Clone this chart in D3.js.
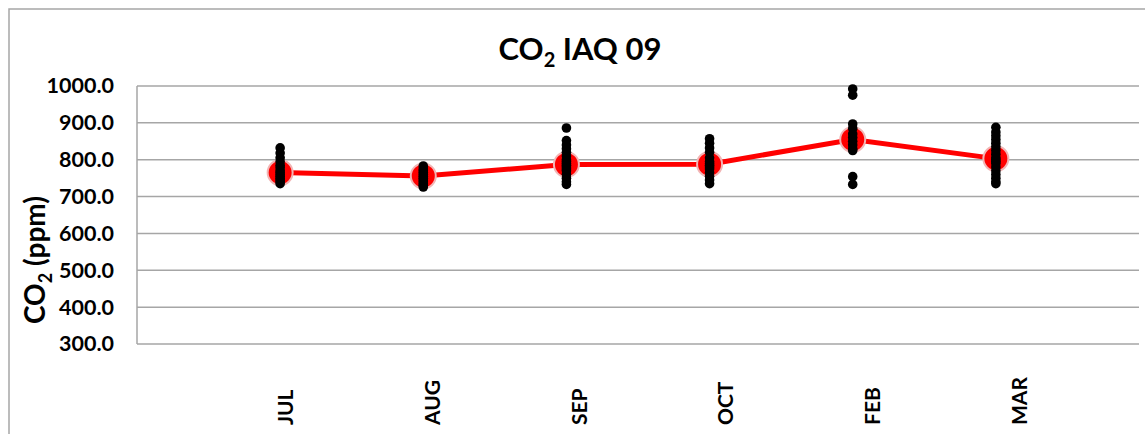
<!DOCTYPE html>
<html><head><meta charset="utf-8">
<script src="https://cdn.jsdelivr.net/npm/d3@7"></script>
<style>
body{margin:0;background:#fff;}
text{font-family:Lato,"Open Sans",sans-serif;font-weight:700;fill:#000;}
</style></head>
<body>
<svg id="c" width="1145" height="434"></svg>
<script>
const months = ["JUL","AUG","SEP","OCT","FEB","MAR"];
const meanValues = [765, 756, 787, 788, 855, 803];
const julReadings = [832, 818, 805, 795, 785, 778, 770, 765, 760, 755, 750, 745, 740, 735];
const augReadings = [783, 775, 770, 765, 760, 755, 750, 745, 740, 735, 730, 726];
const sepReadings = [886, 852, 840, 830, 820, 810, 800, 795, 790, 785, 780, 775, 770, 760, 750, 740, 733];
const octReadings = [857, 845, 832, 820, 805, 795, 790, 785, 780, 775, 765, 755, 745, 735];
const febReadings = [992, 975, 897, 885, 870, 860, 850, 840, 830, 825, 754, 733];
const marReadings = [888, 875, 865, 855, 845, 835, 825, 815, 805, 800, 795, 790, 780, 770, 760, 750, 740, 735];
const readings = [julReadings, augReadings, sepReadings, octReadings, febReadings, marReadings];
const yTicks = [300, 400, 500, 600, 700, 800, 900, 1000];

const svg = d3.select("#c");
const L = 137, R = 1139, T = 86, B = 344;

// outer frame
svg.append("rect").attr("x", 9).attr("y", 9).attr("width", 1160).attr("height", 460)
  .attr("fill", "none").attr("stroke", "#a6a6a6").attr("stroke-width", 1.5);

const x = d3.scaleLinear().domain([0, 7]).range([L, R]);
const y = d3.scaleLinear().domain([300, 1000]).range([B, T]);
const xLab = d3.scalePoint().domain(months).range([286, 1020]);

// gridlines
svg.append("g").selectAll("line").data(yTicks).join("line")
  .attr("x1", L).attr("x2", R).attr("y1", d => y(d)).attr("y2", d => y(d))
  .attr("stroke", "#a6a6a6").attr("stroke-width", 1.5);
svg.append("line").attr("x1", L).attr("x2", L).attr("y1", T).attr("y2", B)
  .attr("stroke", "#a6a6a6").attr("stroke-width", 1.5);

// y tick labels
const yAxis = d3.axisLeft(y).tickValues(yTicks).tickFormat(d3.format(".1f")).tickSize(0).tickPadding(23);
const ga = svg.append("g").attr("transform", `translate(${L},0)`).call(yAxis);
ga.select(".domain").remove();
ga.selectAll("text").attr("font-size", 21.5).attr("font-family", "Lato").attr("font-weight", 700).attr("fill", "#000");

// x labels
svg.append("g").selectAll("text").data(months).join("text")
  .attr("transform", d => `translate(${xLab(d) + 7},425) rotate(-90)`)
  .attr("text-anchor", "start").attr("font-size", 21).text(d => d);

// title
const title = svg.append("text").attr("x", 580).attr("y", 60).attr("text-anchor", "middle").attr("font-size", 31);
title.append("tspan").text("CO");
title.append("tspan").text("2").attr("font-size", 20).attr("dy", 7);
title.append("tspan").text(" IAQ 09").attr("dy", -7);

// y title
const yt = svg.append("text").attr("transform", "translate(45,260) rotate(-90)").attr("text-anchor", "middle").attr("font-size", 28);
yt.append("tspan").text("CO");
yt.append("tspan").text("2").attr("font-size", 18).attr("dy", 7);
yt.append("tspan").text(" (ppm)").attr("dy", -7);

// mean line
const line = d3.line().x((d, i) => x(i + 1)).y(d => y(d));
svg.append("path").datum(meanValues).attr("d", line).attr("fill", "none")
  .attr("stroke", "#ff0000").attr("stroke-width", 5);
svg.append("g").selectAll("circle").data(meanValues).join("circle")
  .attr("cx", (d, i) => x(i + 1)).attr("cy", d => y(d)).attr("r", 12.5)
  .attr("fill", "#ff0000").attr("stroke", "#f2b5b5").attr("stroke-width", 2);

// dots
const pts = readings.flatMap((arr, i) => arr.map(v => ({i, v})));
svg.append("g").selectAll("circle").data(pts).join("circle")
  .attr("cx", d => x(d.i + 1)).attr("cy", d => y(d.v)).attr("r", 4.8).attr("fill", "#000");
</script>
</body></html>
